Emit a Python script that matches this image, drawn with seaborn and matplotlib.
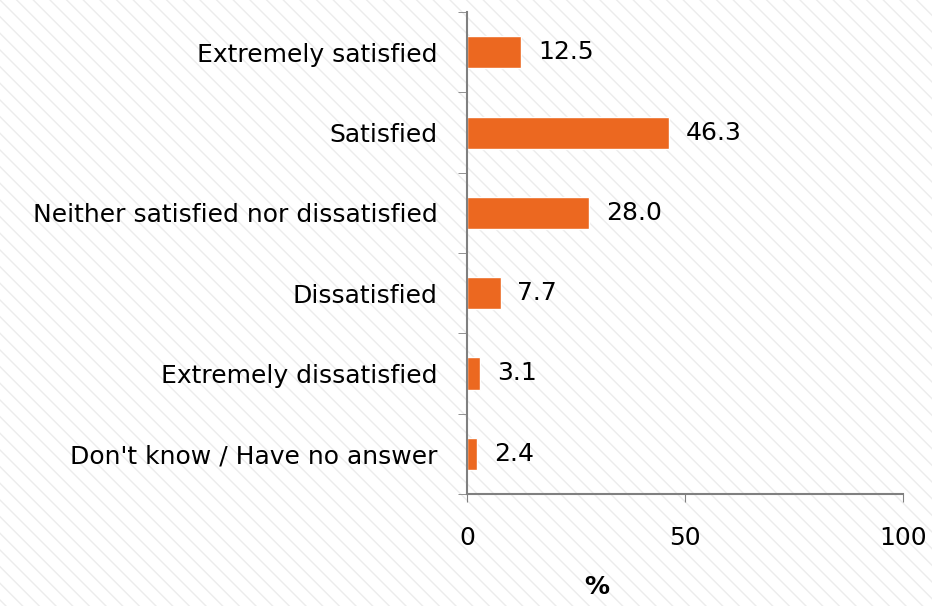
import matplotlib
matplotlib.use("Agg")
import matplotlib.pyplot as plt
from matplotlib.patches import Rectangle
import seaborn as sns
import pandas as pd

categories = ["Extremely satisfied", "Satisfied", "Neither satisfied nor dissatisfied",
              "Dissatisfied", "Extremely dissatisfied", "Don't know / Have no answer"]
values = [12.5, 46.3, 28.0, 7.7, 3.1, 2.4]
x_ticks = [0, 50, 100]

df = pd.DataFrame({"category": categories, "percent": values})

sns.set_style("white")
plt.rcParams["font.family"] = ["DejaVu Sans"]
plt.rcParams["text.color"] = "black"
plt.rcParams["hatch.linewidth"] = 1.0

fig = plt.figure(figsize=(9.32, 6.06), dpi=100)
# faint diagonal stripes in the background
fig.patches.append(Rectangle((0, 0), 1, 1, transform=fig.transFigure, facecolor="white",
                             edgecolor="#ececec", hatch="\\\\", linewidth=0, zorder=-10))
ax = fig.add_axes([0.501, 0.185, 0.468, 0.795])
ax.set_facecolor("none")

sns.barplot(data=df, x="percent", y="category", order=categories, color="#EC6820",
            width=0.4, saturation=1, ax=ax)
ax.bar_label(ax.containers[0], labels=[f"{v:.1f}" for v in values], padding=12,
             fontsize=18, color="black")

ax.set_xlim(0, 100)
ax.set_ylim(5.5, -0.5)
ax.set_xticks(x_ticks)
ax.set_xticklabels([str(t) for t in x_ticks], fontsize=18, color="black")
ax.tick_params(axis="x", direction="out", length=6, color="#808080", pad=17, bottom=True)

ax.set_yticks(range(len(categories)))
ax.set_yticklabels(categories, fontsize=18, color="black")
ax.set_yticks([i - 0.5 for i in range(len(categories) + 1)], minor=True)
ax.tick_params(axis="y", which="major", length=0, pad=21)
ax.tick_params(axis="y", which="minor", direction="out", length=6.5, color="#808080", left=True)

for side in ["top", "right"]:
    ax.spines[side].set_visible(False)
for side in ["left", "bottom"]:
    ax.spines[side].set_color("#808080")
    ax.spines[side].set_linewidth(1.5)

ax.set_ylabel("")
ax.set_xlabel("%", fontsize=18, fontweight="bold", color="black")
ax.xaxis.set_label_coords(0.298, -0.168)

fig.savefig("out.png", dpi=100)
